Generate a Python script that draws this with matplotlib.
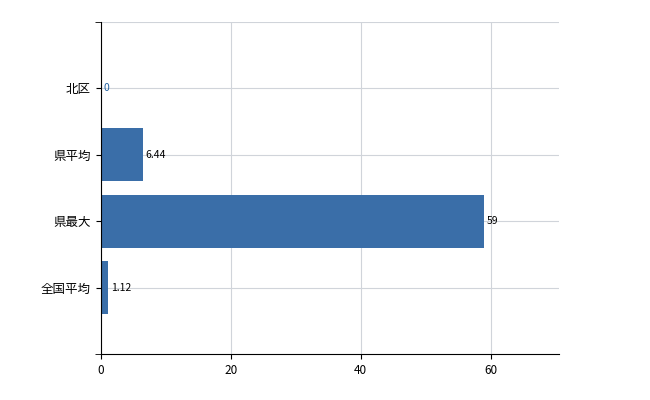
import matplotlib
matplotlib.use("Agg")
import matplotlib.pyplot as plt

plt.rcParams["font.family"] = ["Noto Sans CJK JP", "DejaVu Sans"]

categories = ["全国平均", "県最大", "県平均", "北区"]
values = [1.12, 59, 6.44, 0]
value_labels = ["1.12", "59", "6.44", "0"]

fig = plt.figure(figsize=(6.5, 4.0), dpi=100)
ax = fig.add_axes([0.155, 0.115, 0.705, 0.83])

pos = list(range(len(categories)))
ax.barh(pos, values, height=0.8, color="#3a6ea8", zorder=2)
for p, v, lab in zip(pos, values, value_labels):
    ax.text(v + 0.4, p, lab, va="center", ha="left", fontsize=7.5,
            color="#1f5fa0" if v == 0 else "black", zorder=3)

ax.set_xlim(0, 70.5)
ax.set_ylim(-1, 4)
ax.set_xticks([0, 20, 40, 60])
ax.set_yticks(pos)
ax.set_yticklabels(categories, fontsize=9)
ax.tick_params(axis="x", labelsize=8.5)
ax.set_yticks([-1, 4], minor=True)
ax.tick_params(axis="y", which="minor", length=4)
ax.grid(True, color="#d0d4da", linewidth=0.8, zorder=0)
ax.axhline(4, color="#d0d4da", linewidth=0.8, zorder=0)
for s in ("top", "right"):
    ax.spines[s].set_visible(False)

fig.savefig("out.png", dpi=100)
